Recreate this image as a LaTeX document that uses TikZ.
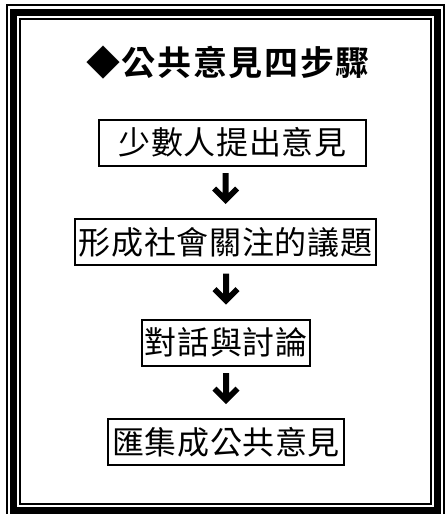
\documentclass[tikz,border=0pt]{standalone}
\usepackage{fontspec}
\newfontfamily\cjk[BoldFont={Noto Sans CJK TC Bold}]{Noto Sans CJK TC}
\newfontfamily\cjkbox[LetterSpace=2]{Noto Sans CJK TC}
\newfontfamily\cjktitle[LetterSpace=5]{Noto Sans CJK TC Bold}
\usetikzlibrary{calc}
\begin{document}
\begin{tikzpicture}[x=1pt,y=-1pt,
  stepbox/.style={draw, line width=2pt, minimum height=46pt, inner sep=0pt,
    font=\cjkbox\fontsize{32}{34}\selectfont},
  bigarrow/.style={to path={($(\tikztotarget)+(-3,-45)$) -- ++(6,0) -- ++(0,20)
     -- ++(6.5,-6.5) -- ++(4,4) -- ++(-13.5,13.5) -- ++(-13.5,-13.5)
     -- ++(4,-4) -- ++(6.5,6.5) -- cycle}}]
\useasboundingbox (0,0) rectangle (447,514);
% triple frame
\draw[line width=2pt] (7,5) rectangle (444,517);
\draw[line width=7pt] (13.5,12.5) rectangle (437.5,510.5);
\draw[line width=2pt] (20,19) rectangle (431,504);
% title
\node[font=\cjktitle\fontsize{34}{36}\selectfont, inner sep=0pt] (title) at (228,62.5) {◆公共意見四步驟};
% steps
\node[stepbox, minimum width=267pt] (b1) at (232.5,142.5) {少數人提出意見};
\node[stepbox, minimum width=301pt] (b2) at (225.5,242) {形成社會關注的議題};
\node[stepbox, minimum width=168pt] (b3) at (226,342.5) {對話與討論};
\node[stepbox, minimum width=236pt] (b4) at (226,442) {匯集成公共意見};
% arrows
\fill[bigarrow] (b1.south) to (b2.north);
\fill[bigarrow] (b2.south) to (b3.north);
\fill[bigarrow] (b3.south) to (b4.north);
\end{tikzpicture}
\end{document}
